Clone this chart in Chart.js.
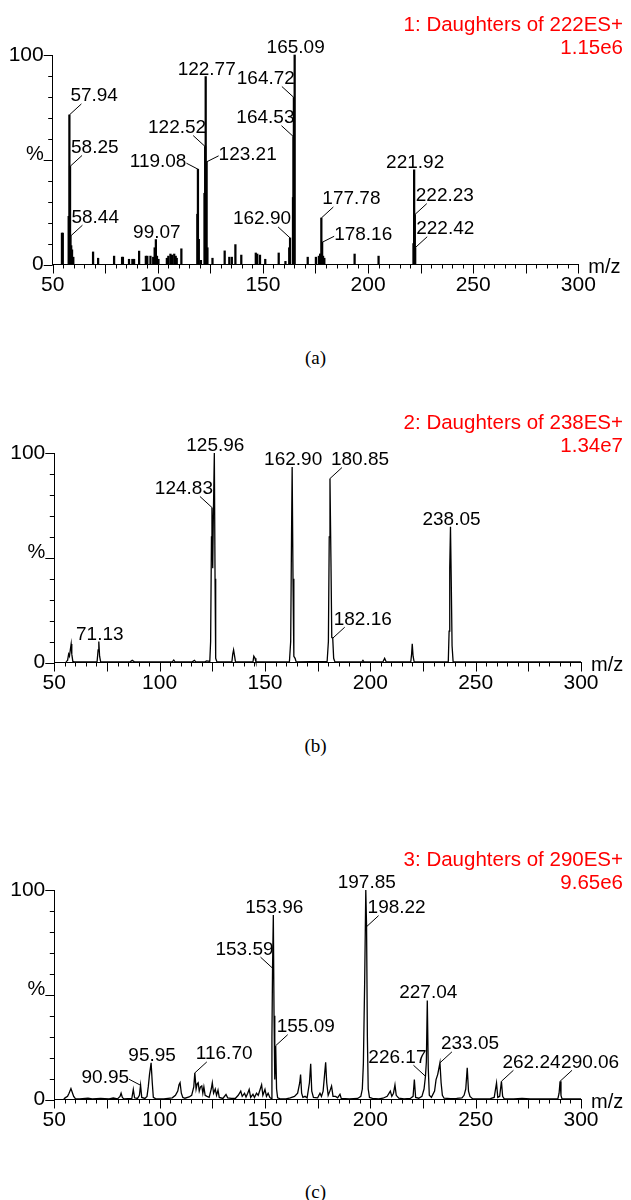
<!DOCTYPE html>
<html>
<head>
<meta charset="utf-8">
<script src="https://cdn.jsdelivr.net/npm/chart.js@4.4.0/dist/chart.umd.min.js"></script>
<style>
  body { margin: 0; background: #fff; width: 631px; height: 1200px; position: relative; overflow: hidden; }
  .panel { position: absolute; left: 0; width: 631px; height: 300px; }
  .cap { position: absolute; left: 0; width: 631px; text-align: center; font: 19px "Liberation Serif", "Times New Roman", serif; color: #000; }
</style>
</head>
<body>
<div class="panel" style="top:0px"><canvas id="specA" width="631" height="300"></canvas></div>
<div class="cap" style="top:347px">(a)</div>
<div class="panel" style="top:398px"><canvas id="specB" width="631" height="300"></canvas></div>
<div class="cap" style="top:735px">(b)</div>
<div class="panel" style="top:835px"><canvas id="specC" width="631" height="300"></canvas></div>
<div class="cap" style="top:1181px">(c)</div>
<script>
// spectrum 1 (centroid sticks): [m/z, %]
var spectrumA = [
  [54.4,15],[54.8,15],[57.6,23],[57.94,71.4],[58.25,46.8],[58.44,13.5],[58.8,9],[59.2,7],[59.8,3.5],
  [69.2,6],[71.6,3],[79.2,4],[83,3.5],[83.4,3.5],[86.3,2.5],[87.9,2.5],[88.7,2.5],[91.1,6.4],
  [94.3,4],[95,4],[96.5,4],[97.8,3.5],[98.5,8],[99.07,11.9],[99.6,4],[100.3,2.5],
  [104.3,3],[105,4],[106,5],[106.7,4.5],[107.8,5],[108.5,4],[109,3],[111.2,7.5],
  [118.8,24],[119.08,45.5],[119.5,12],[120.5,2],[122.2,34],[122.52,56.3],[122.77,89.7],[123.21,49],[123.6,8],
  [126,3],[131.8,6.5],[134,3.5],[135.2,3.5],[136.9,9.5],[139.7,4.5],[146.6,5.5],[147.3,5],[148.6,4.5],[151.1,2.5],
  [157.5,5.5],[160.7,1.5],[162.5,8],[162.90,12.7],[164.3,32],[164.53,61],[164.72,79.7],[165.09,100],
  [171.3,3.5],[175.2,3.5],[176.6,4],[177.2,5],[177.5,5],[177.78,22.2],[178.16,10.6],[178.6,4],[179.2,3],
  [193.6,5],[205,4],[221.6,10],[221.92,45.2],[222.23,23.8],[222.42,8]
];
var labelsA = [57.94, 58.25, 58.44, 99.07, 119.08, 122.52, 122.77, 123.21, 162.90, 164.53, 164.72, 165.09, 177.78, 178.16, 221.92, 222.23, 222.42];
var titleA = ["1: Daughters of 222ES+", "1.15e6"];

// spectrum 2 (profile): [m/z, %]
var spectrumB = [
  [55.5,0.3],[56.3,1],[56.8,4],[57.2,3],[57.6,6],[58.0,8.8],[58.3,4],[58.8,0.5],[59.5,0.3],
  [70.3,0.3],[70.8,6],[71.13,10],[71.5,3],[72,0.3],[86,0.3],[87,1],[88,0.3],[106,0.3],[106.7,1.2],[107.3,0.3],
  [115.5,0.3],[116.5,1],[117.2,0.3],[121.5,0.3],[122.3,0.8],[123.8,0.5],
  [124.2,10],[124.6,60],[124.83,74],[125.2,45],[125.5,70],[125.96,100],[126.3,40],[126.6,2],[127.2,0.3],
  [134.3,0.3],[134.7,4],[135.1,6],[135.5,3.5],[136,0.3],[144.3,0.3],[144.7,3],[145.3,2],[145.7,0.3],
  [161.6,0.3],[162.2,10],[162.6,60],[162.90,93.3],[163.3,40],[163.7,3],[164.3,2],[164.8,0.3],
  [179.5,0.5],[180.1,10],[180.5,60],[180.85,87.8],[181.3,50],[181.7,12],[182.16,11.6],[182.6,2],[183.2,0.3],
  [196,0.3],[196.5,1],[197,0.3],[206,0.3],[206.8,2],[207.5,0.3],
  [219.2,0.3],[219.6,4],[219.9,8.9],[220.3,3],[220.8,0.3],
  [237,0.3],[237.4,15],[237.7,45],[238.05,64.8],[238.4,40],[238.8,8],[239.3,0.3],[300,0.3]
];
var labelsB = [71.13, 124.83, 125.96, 162.90, 180.85, 182.16, 238.05];
var titleB = ["2: Daughters of 238ES+", "1.34e7"];

// spectrum 3 (profile): [m/z, %]
var spectrumC = [
  [54.5,0.3],[55.5,1],[56.3,1.5],[57,3],[57.9,5.2],[58.5,3.5],[59.2,1.5],[60,0.4],[62,0.3],[66,0.6],[68,0.3],
  [72,0.5],[76,0.3],[78,0.7],[80,0.3],[81.2,1.5],[81.7,3],[82.3,1],[83,0.3],[86.8,0.5],[87.5,4.8],[88.1,0.8],
  [89.5,0.5],[90.4,2],[90.95,6.8],[91.5,1],[93,0.5],[94,1.5],[94.6,6],[95.2,12],[95.95,17.5],[96.5,8],[97,1],[98,0.4],
  [102,0.3],[106,0.8],[107.5,2],[108.6,4],[109.2,7],[109.7,8],[110.3,3],[111,1],[112,0.6],[114,1.2],[115.2,2],
  [116.2,6],[116.70,12.7],[117.3,5],[117.8,7.5],[118.3,8],[118.8,4],[119.4,6],[120,6.5],[120.5,3],[121,6],[121.6,2],
  [122.5,1.5],[123.5,1],[124.5,5],[125,8],[125.6,3],[126.4,5],[127,2],[127.7,4.5],[128.3,1],[130,0.5],[131.5,2.4],
  [132.3,0.8],[134,0.5],[136,0.6],[137.3,2],[138.5,4],[139.2,1.5],[140.3,3],[141,1.2],[141.8,3],[142.5,4.8],[143.2,1],
  [144.3,2.5],[145,1],[146,3],[146.8,2],[148.4,7],[149,2],[150,4.8],[150.7,1.5],[151.5,3],[152.3,1],[152.9,0.5],
  [153.3,30],[153.59,62.7],[153.96,88.1],[154.3,40],[154.65,9.5],[155.09,25.7],[155.5,5],[156,0.8],[157,0.4],
  [160,0.3],[162,0.8],[164,1.5],[165.5,3],[166.5,8],[166.9,11.9],[167.4,3],[168,1],[169,1.5],[170,0.8],
  [171.1,8],[171.7,17.1],[172.2,4],[173,1],[175,0.8],[176.1,3],[176.8,1.5],[177.6,4],[178.3,12],[178.8,17.8],
  [179.3,8],[180,2],[180.8,4],[181.6,6.4],[182.3,1.5],[183.5,1.5],[184.5,0.8],[185.6,2.5],[186.2,0.5],[190,0.3],
  [194,0.5],[195.5,1.5],[196.2,5],[196.7,17],[197.3,55],[197.85,100],[198.22,82.5],[198.6,30],[199,5],[199.6,1],
  [201,0.5],[204,0.3],[206,0.6],[208,1.5],[209.5,4],[210.2,1.5],[211,3],[211.7,7],[212.3,2],[213.5,0.6],[216,0.3],
  [219,0.5],[220.3,1.5],[220.9,9.5],[221.5,1],[223,0.6],[224.5,1.5],[225.5,5],[226.17,11.1],[226.6,18],[227.04,47.3],
  [227.5,15],[228,2],[229,1],[230.5,4],[231.2,9.5],[232,12],[233.05,17.5],[233.6,8],[234.2,2],[235,0.6],[238,0.4],
  [241,0.5],[243.5,0.8],[244.5,2],[245.3,5],[246,15.1],[246.6,4],[247.3,1.5],[248.5,0.4],[252,0.3],[257,0.4],
  [258.8,1],[259.9,7.9],[260.5,1],[261.4,1.5],[262.24,8.7],[262.8,1.5],[263.5,0.4],[268,0.3],[272,0.5],[276,0.3],
  [289,0.3],[289.6,3],[290.06,8.7],[290.5,2],[291,0.3],[300,0.3]
];
var labelsC = [90.95, 95.95, 116.70, 153.59, 153.96, 155.09, 197.85, 198.22, 226.17, 227.04, 233.05, 262.24, 290.06];
var titleC = ["3: Daughters of 290ES+", "9.65e6"];

var xTicks = [50, 100, 150, 200, 250, 300];

// where each peak label sits relative to its peak (same order as the label lists)
var placeA = ['ur','ur','ur','top','l','ul','top','r','ul','ul','ul','top','ur','r','top','ur','ur'];
var placeB = ['top','ul','top','top','ur','ur','top'];
var placeC = ['l','top','ur','ul','top','ur','top','ur','ul','top','ur','ur','ur'];

var SANS = '"Liberation Sans", Arial, sans-serif';

var specDecor = {
  id: 'specDecor',
  afterDraw: function (chart, args, opts) {
    var ctx = chart.ctx, xs = chart.scales.x, ys = chart.scales.y;
    var area = chart.chartArea;
    ctx.save();
    ctx.strokeStyle = '#000';
    ctx.fillStyle = '#000';
    ctx.lineWidth = 1;

    // tick marks
    ctx.beginPath();
    for (var v = 50; v <= 300; v += 5) {
      var px = Math.round(xs.getPixelForValue(v)) + 0.5;
      var len = (v % 25 === 0) ? 9 : 4;
      ctx.moveTo(px, area.bottom);
      ctx.lineTo(px, area.bottom + len);
    }
    for (var w = 0; w <= 100; w += 10) {
      var py = Math.round(ys.getPixelForValue(w)) + 0.5;
      var l2 = (w % 50 === 0) ? 9 : 4.5;
      ctx.moveTo(area.left - l2, py);
      ctx.lineTo(area.left, py);
    }
    ctx.stroke();

    ctx.font = '20px ' + SANS;
    ctx.textAlign = 'right';
    ctx.textBaseline = 'middle';
    ctx.fillText('%', area.left - 9, ys.getPixelForValue(50) - 5);
    ctx.textAlign = 'left';
    ctx.textBaseline = 'alphabetic';
    ctx.fillText('m/z', area.right + 10, area.bottom + 8.5);

    // title
    ctx.fillStyle = '#ff0000';
    ctx.font = '20.5px ' + SANS;
    ctx.textAlign = 'right';
    ctx.fillText(opts.title[0], 623, area.top - 24);
    ctx.fillText(opts.title[1], 623, area.top - 1.3);

    // peak labels
    ctx.fillStyle = '#000';
    ctx.font = '19px ' + SANS;
    var pts = chart.data.datasets[0].data;
    opts.labels.forEach(function (mz, i) {
      var pt = pts.find(function (p) { return p.x === mz; });
      if (!pt) return;
      var px = xs.getPixelForValue(pt.x), py = ys.getPixelForValue(pt.y);
      var place = opts.places[i];
      var tx, ty, lx = null, ly = null;
      if (place === 'top') { tx = px + 1; ty = py - 2; ctx.textAlign = 'center'; }
      else if (place === 'ur') { lx = px + 12; ly = py - 11; tx = px + 1; ty = py - 13.5; ctx.textAlign = 'left'; }
      else if (place === 'ul') { lx = px - 12; ly = py - 11; tx = px + 1; ty = py - 13.5; ctx.textAlign = 'right'; }
      else if (place === 'r') { lx = px + 12; ly = py - 6; tx = px + 12; ty = py - 2; ctx.textAlign = 'left'; }
      else { lx = px - 11.5; ly = py - 6; tx = px - 11.5; ty = py - 2.5; ctx.textAlign = 'right'; }
      if (lx !== null) {
        ctx.beginPath();
        ctx.moveTo(px, py);
        ctx.lineTo(lx, ly);
        ctx.stroke();
      }
      ctx.fillText(mz.toFixed(2), tx, ty);
    });
    ctx.restore();
  }
};

function makeSpectrum(id, type, spectrum, labels, places, title, left, right) {
  var ds = {
    data: spectrum.map(function (p) { return { x: p[0], y: p[1] }; }),
    borderColor: '#000',
    backgroundColor: '#000',
    clip: false
  };
  if (type === 'bar') {
    ds.barThickness = 1.6;
    ds.borderWidth = 0;
  } else {
    ds.borderWidth = 1.3;
    ds.pointRadius = 0;
    ds.tension = 0;
    ds.fill = false;
  }
  return new Chart(document.getElementById(id), {
    type: type,
    data: { datasets: [ds] },
    plugins: [specDecor],
    options: {
      responsive: false,
      animation: false,
      events: [],
      layout: { padding: { top: 55, left: 0, right: 631 - right, bottom: 0 } },
      plugins: {
        legend: { display: false },
        tooltip: { enabled: false },
        specDecor: { labels: labels, places: places, title: title }
      },
      scales: {
        x: {
          type: 'linear', min: 50, max: 300, offset: false,
          afterFit: function (s) { s.height = 35.5; },
          afterBuildTicks: function (s) { s.ticks = xTicks.map(function (v) { return { value: v }; }); },
          grid: { display: true, drawOnChartArea: false, drawTicks: false, offset: false },
          border: { display: true, color: '#000', width: 1 },
          ticks: { padding: 8, color: '#000', font: { family: SANS, size: 21 }, maxRotation: 0, autoSkip: false }
        },
        y: {
          min: 0, max: 100,
          afterFit: function (s) { s.width = left; },
          grid: { display: true, drawOnChartArea: false, drawTicks: false },
          border: { display: true, color: '#000', width: 1 },
          ticks: {
            stepSize: 10, padding: 9, color: '#000', autoSkip: false,
            font: { family: SANS, size: 21 },
            callback: function (v) { return (v === 0 || v === 100) ? String(v) : ''; }
          }
        }
      }
    }
  });
}

makeSpectrum('specA', 'bar', spectrumA, labelsA, placeA, titleA, 52.7, 578.3);
makeSpectrum('specB', 'line', spectrumB, labelsB, placeB, titleB, 54.3, 581);
makeSpectrum('specC', 'line', spectrumC, labelsC, placeC, titleC, 54.3, 581);
</script>
</body>
</html>
